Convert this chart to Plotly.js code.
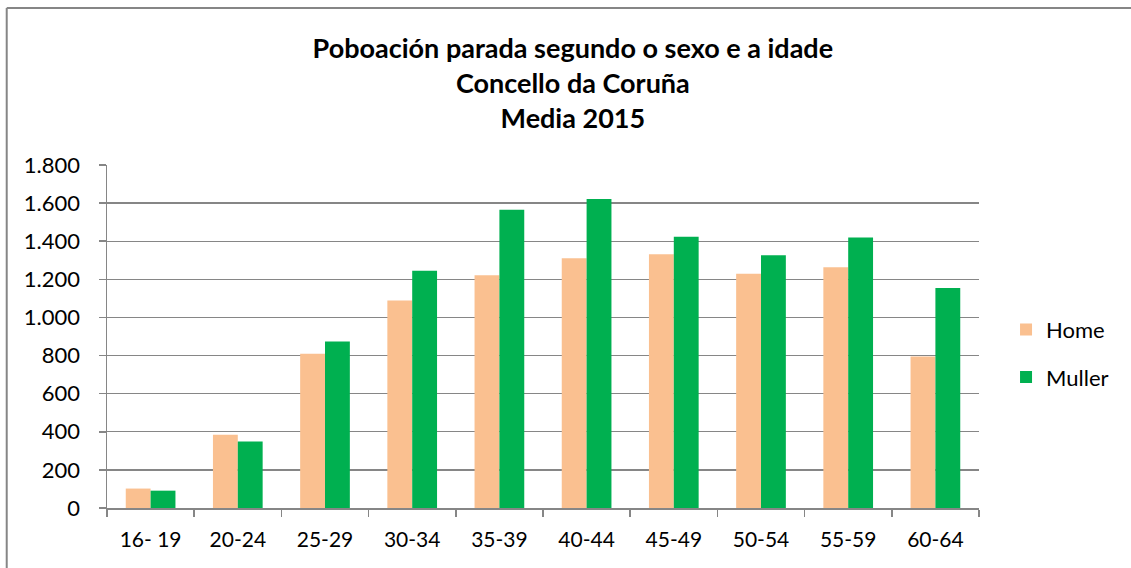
<!DOCTYPE html>
<html>
<head>
<meta charset="utf-8">
<script src="https://cdn.plot.ly/plotly-3.0.1.min.js"></script>
<style>html,body{margin:0;padding:0;background:#fff}</style>
</head>
<body>
<div id="chart" style="width:1131px;height:568px"></div>
<script>
const categories = ["16- 19","20-24","25-29","30-34","35-39","40-44","45-49","50-54","55-59","60-64"];
const home = [102, 385, 809, 1089, 1222, 1310, 1331, 1229, 1263, 795];
const muller = [91, 349, 874, 1245, 1565, 1621, 1423, 1327, 1420, 1155];
const seriesNames = ["Home", "Muller"];
const titleLines = ["Poboación parada segundo o sexo e a idade", "Concello da Coruña", "Media 2015"];

const font = "Lato, 'Open Sans', sans-serif";
const traces = [
  {type:"bar", name:seriesNames[0], x:categories, y:home, marker:{color:"#FAC090"}, legendgroup:"a"},
  {type:"bar", name:seriesNames[1], x:categories, y:muller, marker:{color:"#00B050"}, legendgroup:"b"}
];
const layout = {
  width:1131, height:568,
  margin:{l:107, r:152, t:165, b:60},
  paper_bgcolor:"#fff", plot_bgcolor:"#fff",
  separators:",.",
  font:{family:font, color:"#000", size:21},
  title:{text:titleLines.map(s=>"<b>"+s+"</b>").join("<br>"), x:0.5065, xanchor:"center",
    yref:"container", y:0.898, yanchor:"middle", font:{family:font, size:27, color:"#000"}},
  barmode:"group", bargap:0.43, bargroupgap:0,
  xaxis:{type:"category", showgrid:false, showline:true, linecolor:"#868686", linewidth:1.5,
    ticks:"outside", ticklen:7, tickcolor:"#868686", tickwidth:1.5, tickson:"boundaries",
    ticklabelstandoff:12,
    tickfont:{family:font, size:21, color:"#000"}, fixedrange:true},
  yaxis:{range:[0,1800], dtick:200, tickformat:",d", showgrid:true, gridcolor:"#868686", gridwidth:1.3,
    showline:true, linecolor:"#868686", linewidth:1.5, ticks:"outside", ticklen:7, tickcolor:"#868686", tickwidth:1.5,
    ticklabelstandoff:14,
    tickfont:{family:font, size:22, color:"#000"}, zeroline:false, fixedrange:true},
  legend:{x:1.031, xanchor:"left", y:0.45, yanchor:"middle", font:{family:font, size:22, color:"#000"},
    traceorder:"grouped", tracegroupgap:16, bgcolor:"rgba(0,0,0,0)"},
  shapes:[
    {type:"line", xref:"paper", yref:"paper", x0:-0.115, x1:1.3, y0:1.458, y1:1.458,
      line:{color:"#868686", width:2}, layer:"below"},
    {type:"line", xref:"paper", yref:"paper", x0:-0.115, x1:-0.115, y0:-0.3, y1:1.458,
      line:{color:"#868686", width:2}, layer:"below"}
  ]
};
Plotly.newPlot("chart", traces, layout, {displayModeBar:false, staticPlot:true});
</script>
</body>
</html>
